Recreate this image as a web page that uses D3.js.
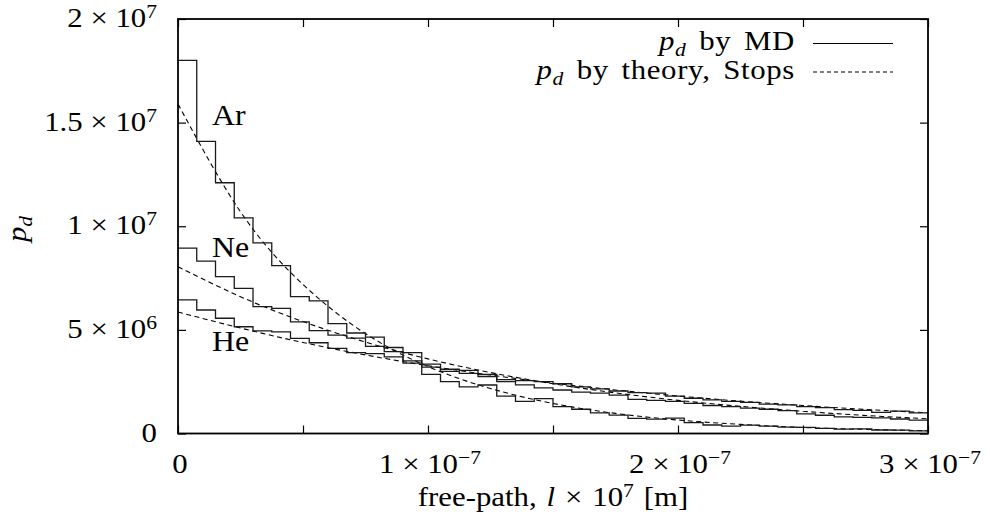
<!DOCTYPE html>
<html>
<head>
<meta charset="utf-8">
<script src="https://cdn.jsdelivr.net/npm/d3@7/dist/d3.min.js"></script>
<style>
  body { margin: 0; background: #fff; }
  #chart { width: 990px; height: 524px; }
  text { font-family: "Liberation Serif", "DejaVu Serif", serif; fill: #000; }
</style>
</head>
<body>
<div id="chart"></div>
<script>
"use strict"

// free-path histogram bins, units of 1e-7 m
const binWidth = 0.075;

// p_d by MD, units of 1e6 (one value per bin)
const arValues = [18.0, 14.1, 12.1, 10.4, 9.2, 8.1, 6.6, 6.4, 5.3, 4.85,
                  4.65, 3.95, 3.4, 2.85, 2.5, 2.25, 2.34, 1.8, 1.55, 1.68,
                  1.3, 1.17, 1.0, 0.89, 0.73, 0.69, 0.74, 0.52, 0.41, 0.36,
                  0.4, 0.36, 0.31, 0.3, 0.25, 0.21, 0.22, 0.17, 0.16, 0.13];
const neValues = [8.94, 8.32, 7.57, 7.0, 6.12, 6.04, 5.39, 4.96, 4.75, 4.6,
                  4.2, 4.15, 3.9, 3.35, 3.1, 3.05, 2.85, 2.5, 2.35, 2.2,
                  2.1, 2.0, 1.95, 1.85, 1.65, 1.6, 1.55, 1.45, 1.35, 1.3,
                  1.22, 1.17, 1.1, 0.95, 0.88, 0.8, 0.78, 0.75, 0.7, 0.65];
const heValues = [6.45, 5.96, 5.56, 5.15, 4.95, 4.9, 4.59, 4.38, 4.11, 3.9,
                  3.85, 3.7, 3.5, 3.2, 3.0, 2.9, 2.75, 2.6, 2.55, 2.5,
                  2.4, 2.25, 2.15, 2.05, 1.97, 1.95, 1.8, 1.7, 1.62, 1.55,
                  1.5, 1.42, 1.38, 1.3, 1.25, 1.15, 1.12, 1.02, 1.08, 1.0];

// p_d by theory (Stops), read at these free-path positions
const theoryX  = [0, 0.25, 0.5, 0.75, 1, 1.25, 1.5, 1.75, 2, 2.25, 2.5, 2.75, 3];
const arTheory = [15.9, 10.7, 7.19, 4.82, 3.23, 2.17, 1.45, 0.97, 0.65, 0.44, 0.29, 0.2, 0.13];
const neTheory = [8.05, 6.6, 5.4, 4.41, 3.6, 2.94, 2.4, 1.96, 1.6, 1.31, 1.07, 0.87, 0.71];
const heTheory = [5.86, 5.09, 4.39, 3.79, 3.27, 2.82, 2.43, 2.1, 1.81, 1.56, 1.35, 1.16, 1.0];

// gas names and where their labels sit (free-path, p_d)
const gasNames = ["Ar", "Ne", "He"];
const gasLabelX = [0.136, 0.136, 0.136];
const gasLabelY = [14.9, 8.5, 4.0];

// axes
const xTicks = [0, 0.5, 1, 1.5, 2, 2.5, 3];
const xLabelValues = [0, 1, 2, 3];
const xLabelMant = ["0", "1", "2", "3"];
const xLabelExp = ["", "\u22127", "\u22127", "\u22127"];
const yTicks = [0, 5, 10, 15, 20];
const yLabelMant = ["0", "5", "1", "1.5", "2"];
const yLabelExp = ["", "6", "7", "7", "7"];

let FreePathView = function(targetID) {

    let self = {
        targetElement: null,
        targetSvg: null,
        x: null,
        y: null,
        stretch: 1.1   // TeX fonts run wider than Liberation Serif
    };

    init();

    function init() {
        self.targetElement = d3.select(targetID);

        self.targetSvg = self.targetElement.append("svg")
            .attr("width", 990)
            .attr("height", 524);

        self.x = d3.scaleLinear().domain([0, 3]).range([178, 928]);
        self.y = d3.scaleLinear().domain([0, 20]).range([433.5, 19]);

        drawAxes();
        drawTickLabels();
        drawAxisTitles();
        drawTheory(arTheory);
        drawTheory(neTheory);
        drawTheory(heTheory);
        drawHistogram(arValues);
        drawHistogram(neValues);
        drawHistogram(heValues);
        drawGasLabels();
        drawLegend();
        drawBorder();
    }

    function addText(px, py, anchor, size, extra) {
        return self.targetSvg.append("text")
            .attr("transform", "translate(" + px + "," + py + ")" + (extra || "") + " scale(" + self.stretch + ",1)")
            .style("font-size", size + "px")
            .style("text-anchor", anchor);
    }

    // writes a little bit of TeX-like text: parts may be italic, sup or sub
    function mathText(sel, parts) {
        let shift = 0;
        parts.forEach(function(p) {
            let ts = sel.append("tspan").text(p.t);
            let target = p.sup ? -9 : (p.sub ? 6 : 0);
            if (target !== shift) {
                ts.attr("dy", target - shift);
                shift = target;
            }
            if (p.sup || p.sub) ts.style("font-size", "0.7em");
            if (p.italic) ts.style("font-style", "italic");
        });
    }

    function styleTicks(g) {
        g.select(".domain").remove();
        g.selectAll(".tick line").attr("stroke", "#000").attr("stroke-width", 1.2);
    }

    function drawAxes() {
        let x = self.x, y = self.y;
        self.targetSvg.append("g")
            .attr("transform", "translate(0," + y(0) + ")")
            .call(d3.axisBottom(x).tickValues(xTicks).tickSizeInner(-8).tickSizeOuter(0).tickFormat(""))
            .call(styleTicks);
        self.targetSvg.append("g")
            .attr("transform", "translate(0," + y(20) + ")")
            .call(d3.axisTop(x).tickValues(xTicks).tickSizeInner(-8).tickSizeOuter(0).tickFormat(""))
            .call(styleTicks);
        self.targetSvg.append("g")
            .attr("transform", "translate(" + x(0) + ",0)")
            .call(d3.axisLeft(y).tickValues(yTicks).tickSizeInner(-8).tickSizeOuter(0).tickFormat(""))
            .call(styleTicks);
        self.targetSvg.append("g")
            .attr("transform", "translate(" + x(3) + ",0)")
            .call(d3.axisRight(y).tickValues(yTicks).tickSizeInner(-8).tickSizeOuter(0).tickFormat(""))
            .call(styleTicks);
    }

    function drawBorder() {
        let x = self.x, y = self.y;
        self.targetSvg.append("rect")
            .attr("x", x(0))
            .attr("y", y(20))
            .attr("width", x(3) - x(0))
            .attr("height", y(0) - y(20))
            .style("fill", "none")
            .style("stroke", "#000")
            .style("stroke-width", "1.8px");
    }

    function drawTickLabels() {
        let x = self.x, y = self.y;
        xLabelValues.forEach(function(v, i) {
            let t = addText(x(v) + 2, 473, "middle", 28);
            let parts = [{t: xLabelMant[i]}];
            if (xLabelExp[i]) parts = [{t: xLabelMant[i] + " \u00d7 10"}, {t: xLabelExp[i], sup: true}];
            mathText(t, parts);
        });
        yTicks.forEach(function(v, i) {
            let t = addText(157, y(v) + 8, "end", 28);
            let parts = [{t: yLabelMant[i]}];
            if (yLabelExp[i]) parts = [{t: yLabelMant[i] + " \u00d7 10"}, {t: yLabelExp[i], sup: true}];
            mathText(t, parts);
        });
    }

    function drawAxisTitles() {
        let t = addText(553, 506, "middle", 28).style("word-spacing", "2px");
        mathText(t, [{t: "free-path, "}, {t: "l", italic: true}, {t: " \u00d7 10"}, {t: "7", sup: true}, {t: "  [m]"}]);

        let yt = addText(26, 229, "middle", 28, " rotate(-90)");
        mathText(yt, [{t: "p", italic: true}, {t: "d", italic: true, sub: true}]);
    }

    function drawHistogram(values) {
        let x = self.x, y = self.y;
        let pts = values.map((v, i) => [i * binWidth, v]);
        pts.push([values.length * binWidth, values[values.length - 1]]);
        let line = d3.line()
            .x(d => x(d[0]))
            .y(d => y(d[1]))
            .curve(d3.curveStepAfter);
        self.targetSvg.append("path")
            .attr("d", line(pts))
            .style("fill", "none")
            .style("stroke", "#1a1a1a")
            .style("stroke-width", "1.3px");
    }

    function drawTheory(values) {
        let x = self.x, y = self.y;
        let line = d3.line()
            .x((d, i) => x(theoryX[i]))
            .y(d => y(d))
            .curve(d3.curveNatural);
        self.targetSvg.append("path")
            .attr("d", line(values))
            .style("fill", "none")
            .style("stroke", "#000")
            .style("stroke-width", "1.1px")
            .style("stroke-dasharray", "5,3.5");
    }

    function drawGasLabels() {
        let x = self.x, y = self.y;
        gasNames.forEach(function(name, i) {
            addText(x(gasLabelX[i]), y(gasLabelY[i]), "start", 29).text(name);
        });
    }

    function drawLegend() {
        let rows = [
            {parts: [{t: "p", italic: true}, {t: "d", italic: true, sub: true}, {t: " by MD"}], dash: null},
            {parts: [{t: "p", italic: true}, {t: "d", italic: true, sub: true}, {t: " by theory, Stops"}], dash: "4,3"}
        ];
        rows.forEach(function(r, i) {
            let t = addText(795, 50 + i * 28.5, "end", 28)
                .style("word-spacing", "4px")
                .style("letter-spacing", "0.6px");
            mathText(t, r.parts);
            self.targetSvg.append("line")
                .attr("x1", 813)
                .attr("x2", 893)
                .attr("y1", 43.5 + i * 28.5)
                .attr("y2", 43.5 + i * 28.5)
                .style("stroke", "#000")
                .style("stroke-width", "1.2px")
                .style("stroke-dasharray", r.dash);
        });
    }

    return self;
};

FreePathView("#chart");
</script>
</body>
</html>
